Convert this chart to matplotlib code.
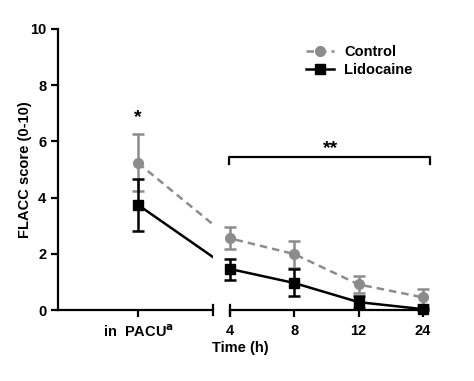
#!/usr/bin/env python3
"""
FLACC score over time, control vs lidocaine (broken x axis)
"""

import matplotlib
matplotlib.use('Agg')
import matplotlib.pyplot as plt

plt.rcParams['font.family'] = ['Liberation Sans', 'DejaVu Sans']
plt.rcParams['font.weight'] = 'bold'

# data
time_labels = ['4', '8', '12', '24']
control_mean = [5.23, 2.55, 1.99, 0.91, 0.45]
control_upper = [6.26, 2.95, 2.44, 1.21, 0.74]
control_lower = [4.23, 2.17, 1.49, 0.62, 0.18]
lido_mean = [3.74, 1.46, 0.96, 0.28, 0.03]
lido_upper = [4.66, 1.83, 1.45, 0.50, 0.08]
lido_lower = [2.82, 1.08, 0.49, 0.06, 0.0]

# x positions: PACU at 0, time points spaced by one unit after the break
xpos = [0, 1.4375, 2.4375, 3.4375, 4.4375]

grey = '#8c8c8c'
W, H = 474, 381
fig = plt.figure(figsize=(4.74, 3.81), dpi=100)
bottom = (H - 310) / H
height = 281 / H
ax1 = fig.add_axes([58 / W, bottom, (213 - 58) / W, height])
ax2 = fig.add_axes([230 / W, bottom, (423 - 230) / W, height], sharey=ax1)


def yerr(mean, up, lo):
    return [[m - l for m, l in zip(mean, lo)], [u - m for u, m in zip(up, mean)]]


c_err = yerr(control_mean, control_upper, control_lower)
l_err = yerr(lido_mean, lido_upper, lido_lower)

for ax in (ax1, ax2):
    ax.plot(xpos, control_mean, ls=(0, (3, 2)), color=grey, lw=1.8, zorder=2)
    ax.plot(xpos, lido_mean, ls='-', color='black', lw=1.8, zorder=3)

# markers and error bars
ax1.errorbar(xpos[:1], control_mean[:1], yerr=[c_err[0][:1], c_err[1][:1]], fmt='o',
             color=grey, ms=7, capsize=4, elinewidth=1.8, capthick=1.8, zorder=4)
ax1.errorbar(xpos[:1], lido_mean[:1], yerr=[l_err[0][:1], l_err[1][:1]], fmt='s',
             color='black', ms=7, capsize=4, elinewidth=1.8, capthick=1.8, zorder=5)
e1 = ax2.errorbar(xpos[1:], control_mean[1:], yerr=[c_err[0][1:], c_err[1][1:]], fmt='o',
                  color=grey, ms=7, capsize=4, elinewidth=1.8, capthick=1.8, zorder=4)
e2 = ax2.errorbar(xpos[1:], lido_mean[1:], yerr=[l_err[0][1:], l_err[1][1:]], fmt='s',
                  color='black', ms=7, capsize=4, elinewidth=1.8, capthick=1.8, zorder=5)
for cont in (e1, e2):
    cont.lines[0].set_clip_on(False)
    for c in cont.lines[1]:
        c.set_clip_on(False)
    for c in cont.lines[2]:
        c.set_clip_on(False)

ax1.set_xlim(-1.25, 1.17)
ax2.set_xlim(1.4375, 4.4375)
ax1.set_ylim(0, 10)
ax1.set_yticks([0, 2, 4, 6, 8, 10])

for ax in (ax1, ax2):
    ax.spines['top'].set_visible(False)
    ax.spines['right'].set_visible(False)
    ax.spines['bottom'].set_linewidth(1.6)
    ax.spines['left'].set_linewidth(1.6)
    ax.tick_params(width=1.6, length=5, labelsize=10.5)
    ax.tick_params(axis='x', pad=5)
ax2.spines['left'].set_visible(False)
ax2.tick_params(axis='y', left=False, labelleft=False)

ax1.set_xticks([0])
ax1.set_xticklabels(['in  PACU$^{\\mathbf{a}}$'])
ax2.set_xticks(xpos[1:])
ax2.set_xticklabels(time_labels)

# end caps of the broken axis
tr1 = ax1.get_xaxis_transform()
tr2 = ax2.get_xaxis_transform()
ax1.plot([1.17, 1.17], [-0.018, 0.018], transform=tr1, color='black', lw=1.6, clip_on=False)
ax2.plot([1.4375, 1.4375], [-0.018, 0.018], transform=tr2, color='black', lw=1.6, clip_on=False)

ax1.set_ylabel('FLACC score (0-10)', fontsize=10.5, fontweight='bold')
ax1.yaxis.set_label_coords(-0.165, 0.5)
fig.text(240 / W, 1 - 348 / H, 'Time (h)', ha='center', va='center', fontsize=10.5, fontweight='bold')

# significance marks
ax1.text(0, 6.85, '*', ha='center', va='center', fontsize=14, fontweight='bold')
ax2.plot([1.42, 1.42, 4.54, 4.54], [5.2, 5.46, 5.46, 5.2], color='black', lw=1.6, clip_on=False)
ax2.text(3.0, 5.75, '**', ha='center', va='center', fontsize=14, fontweight='bold')

# legend
h1, = ax2.plot([], [], ls=(0, (3, 2)), color=grey, lw=1.8, marker='o', ms=7)
h2, = ax2.plot([], [], ls='-', color='black', lw=1.8, marker='s', ms=7)
fig.legend([h1, h2], ['Control', 'Lidocaine'], loc='upper left', bbox_to_anchor=(293 / W, 1 - 32 / H),
           frameon=False, fontsize=10.5, handlelength=1.9, handletextpad=0.7, labelspacing=0.25)

fig.savefig('out.png', dpi=100)
